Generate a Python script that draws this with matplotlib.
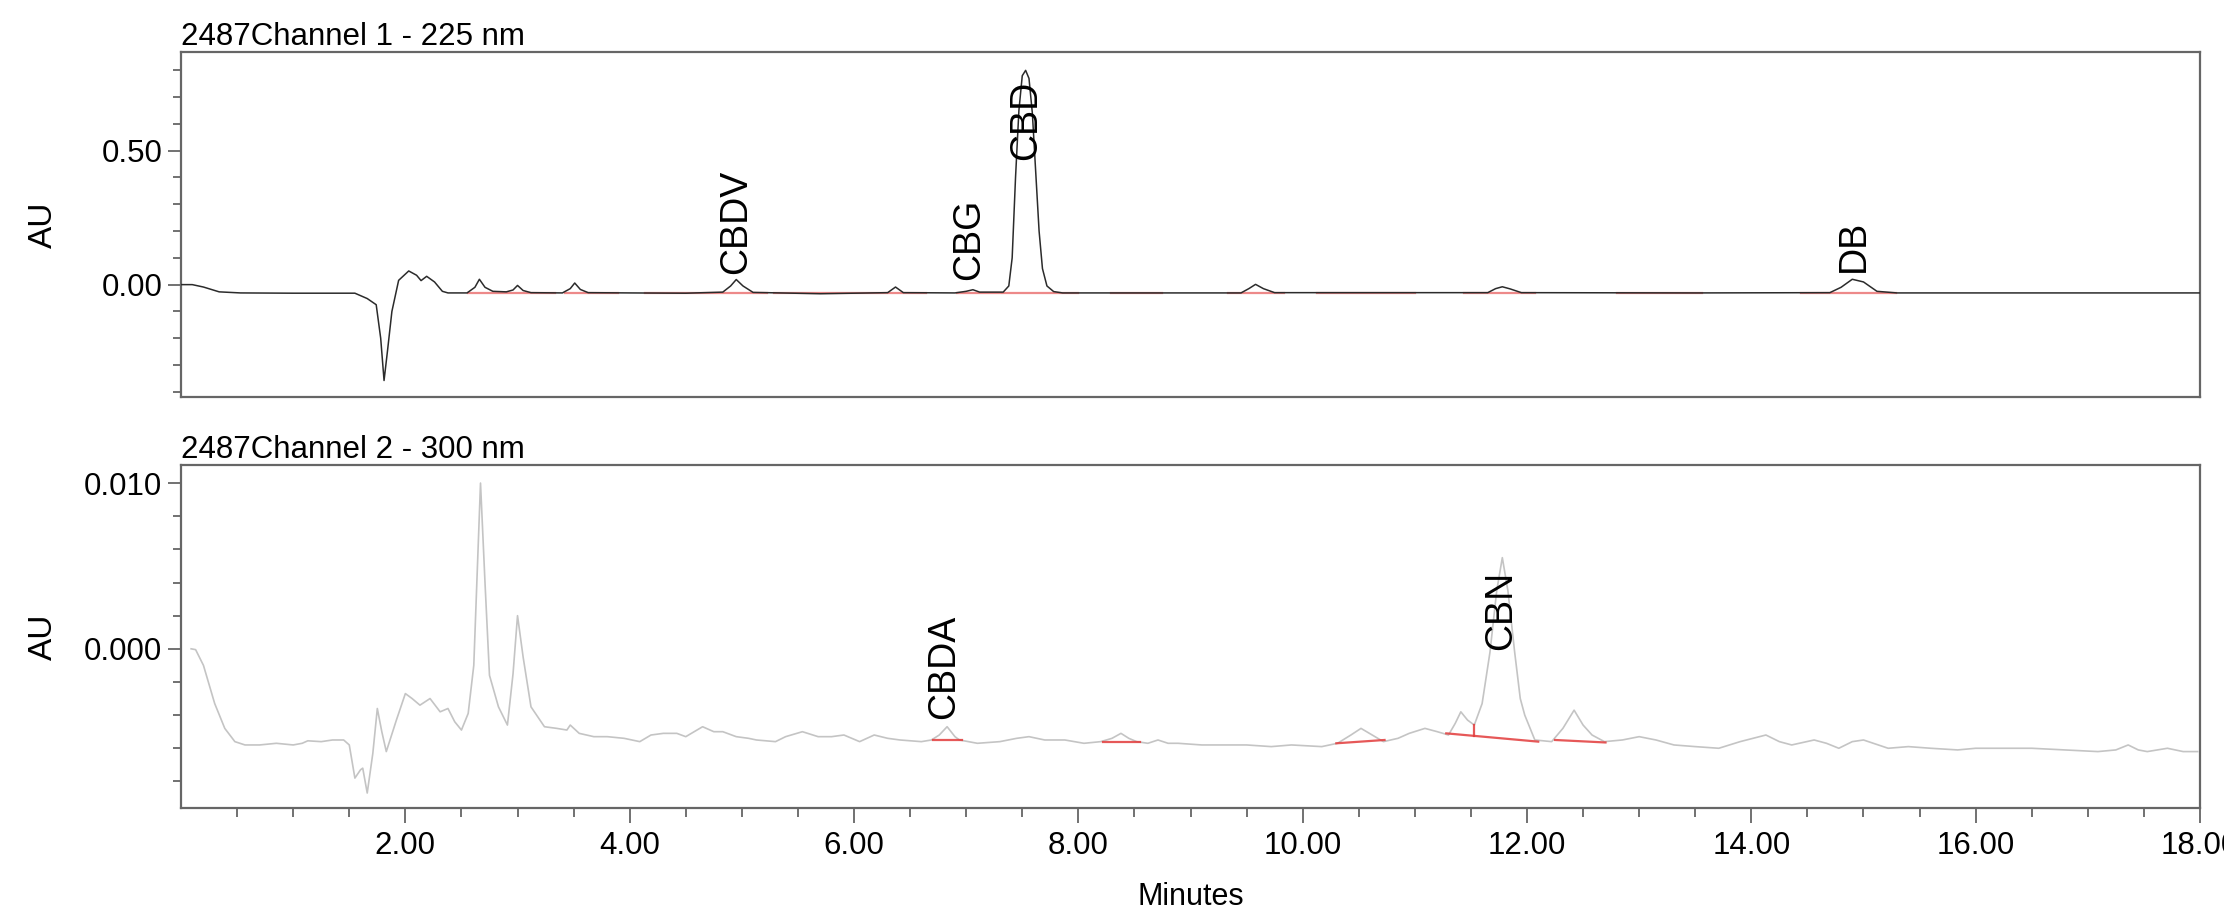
import matplotlib
matplotlib.use("Agg")
import matplotlib.pyplot as plt
from matplotlib.ticker import FixedLocator

plt.rcParams["font.family"] = ["Liberation Sans", "DejaVu Sans"]

# ---- channel 1 (225 nm) trace, minutes / AU ----
ch1_time = [0.0, 0.1, 0.2, 0.34, 0.53, 1.0, 1.55, 1.66, 1.74, 1.78, 1.81, 1.84, 1.88,
            1.94, 2.03, 2.1, 2.14, 2.19, 2.26, 2.33, 2.38, 2.55, 2.62, 2.66, 2.71, 2.78,
            2.9, 2.96, 3.0, 3.05, 3.12, 3.4, 3.47, 3.51, 3.56, 3.63, 4.0, 4.5, 4.83, 4.9,
            4.95, 5.01, 5.1, 5.7, 6.3, 6.37, 6.44, 6.9, 7.0, 7.06, 7.12, 7.33, 7.38,
            7.41, 7.44, 7.47, 7.5, 7.53, 7.56, 7.59, 7.62, 7.65, 7.68, 7.72, 7.78, 7.86,
            9.45, 9.52, 9.58, 9.65, 9.75, 11.65, 11.72, 11.78, 11.85, 11.95, 13.5, 14.7,
            14.8, 14.9, 15.0, 15.12, 15.3, 18.0]
ch1_au = [0.0, 0.0, -0.009, -0.027, -0.031, -0.032, -0.032, -0.052, -0.075, -0.2, -0.358,
          -0.25, -0.1, 0.016, 0.051, 0.035, 0.015, 0.031, 0.01, -0.025, -0.031, -0.031,
          -0.01, 0.02, -0.01, -0.025, -0.027, -0.02, -0.003, -0.022, -0.03, -0.031,
          -0.015, 0.006, -0.018, -0.03, -0.031, -0.032, -0.028, -0.005, 0.019, -0.005,
          -0.029, -0.034, -0.03, -0.009, -0.03, -0.031, -0.025, -0.019, -0.028, -0.028,
          -0.005, 0.1, 0.4, 0.65, 0.78, 0.8, 0.77, 0.64, 0.42, 0.2, 0.06, -0.005, -0.026,
          -0.031, -0.031, -0.015, 0.001, -0.015, -0.03, -0.03, -0.015, -0.008, -0.016,
          -0.03, -0.031, -0.03, -0.01, 0.02, 0.01, -0.025, -0.031, -0.031]

# integration baselines, channel 1 (start, end, level)
ch1_base_start = [2.56, 3.42, 4.14, 5.29, 6.92, 7.33, 8.29, 9.33, 10.13, 11.44, 12.8, 14.44]
ch1_base_end = [3.33, 3.9, 5.22, 6.64, 7.31, 8.0, 8.75, 9.83, 11.0, 12.07, 13.56, 15.29]
ch1_base_level = -0.031

ch1_peaks = ["CBDV", "CBG", "CBD", "DB"]
ch1_peak_time = [4.95, 7.03, 7.53, 14.91]
ch1_label_y = [0.04, 0.016, 0.465, 0.047]

# ---- channel 2 (300 nm) trace, minutes / mAU ----
ch2_time = [0.09, 0.13, 0.2, 0.3, 0.39, 0.48, 0.57, 0.7, 0.85, 1.0, 1.08, 1.13, 1.25, 1.35,
            1.45, 1.5, 1.55, 1.6, 1.62, 1.66, 1.71, 1.75, 1.79, 1.83, 1.92, 2.0, 2.06, 2.13,
            2.22, 2.31, 2.38, 2.44, 2.5, 2.56, 2.61, 2.67, 2.71, 2.75, 2.83, 2.91, 2.96,
            3.0, 3.05, 3.12, 3.24, 3.35, 3.44, 3.47, 3.55, 3.68, 3.8, 3.95, 4.09, 4.19,
            4.3, 4.42, 4.5, 4.65, 4.75, 4.83, 4.95, 5.06, 5.13, 5.3, 5.39, 5.54, 5.68, 5.8,
            5.91, 6.05, 6.18, 6.3, 6.41, 6.6, 6.69, 6.76, 6.83, 6.9, 6.94, 7.1, 7.3, 7.45,
            7.56, 7.7, 7.88, 8.05, 8.2, 8.3, 8.38, 8.45, 8.52, 8.62, 8.71, 8.8, 8.89, 9.1,
            9.26, 9.5, 9.72, 9.9, 10.17, 10.31, 10.43, 10.52, 10.62, 10.72, 10.85, 10.95,
            11.09, 11.2, 11.3, 11.36, 11.41, 11.47, 11.53, 11.6, 11.67, 11.73, 11.78,
            11.83, 11.89, 11.94, 11.98, 12.07, 12.22, 12.32, 12.42, 12.5, 12.58, 12.69,
            12.85, 13.0, 13.15, 13.31, 13.5, 13.71, 13.9, 14.13, 14.25, 14.36, 14.56,
            14.67, 14.78, 14.9, 15.0, 15.22, 15.4, 15.6, 15.84, 16.0, 16.29, 16.5, 16.8,
            17.09, 17.25, 17.36, 17.45, 17.53, 17.71, 17.85, 17.98]
ch2_mau = [0.0, -0.05, -1.0, -3.3, -4.8, -5.6, -5.8, -5.8, -5.7, -5.8, -5.7, -5.55, -5.6,
           -5.5, -5.5, -5.8, -7.8, -7.3, -7.2, -8.7, -6.3, -3.6, -5.0, -6.2, -4.3, -2.7,
           -3.0, -3.4, -3.0, -3.8, -3.6, -4.4, -4.9, -3.9, -1.0, 10.0, 4.0, -1.6, -3.5,
           -4.6, -1.5, 2.0, -0.5, -3.5, -4.7, -4.8, -4.9, -4.6, -5.1, -5.3, -5.3, -5.4,
           -5.6, -5.2, -5.1, -5.1, -5.3, -4.7, -5.0, -5.0, -5.3, -5.4, -5.5, -5.6, -5.3,
           -5.0, -5.3, -5.3, -5.2, -5.6, -5.2, -5.4, -5.5, -5.6, -5.5, -5.2, -4.7, -5.3,
           -5.5, -5.7, -5.6, -5.4, -5.3, -5.5, -5.5, -5.7, -5.6, -5.4, -5.1, -5.4, -5.6,
           -5.7, -5.5, -5.7, -5.7, -5.8, -5.8, -5.8, -5.9, -5.8, -5.9, -5.7, -5.2, -4.8,
           -5.2, -5.6, -5.4, -5.1, -4.8, -5.0, -5.2, -4.5, -3.8, -4.3, -4.6, -3.3, -0.2,
           3.5, 5.5, 3.5, -0.2, -3.0, -4.0, -5.5, -5.6, -4.8, -3.7, -4.6, -5.2, -5.6,
           -5.5, -5.3, -5.5, -5.8, -5.9, -6.0, -5.6, -5.2, -5.6, -5.8, -5.5, -5.7, -6.0,
           -5.6, -5.5, -6.0, -5.9, -6.0, -6.1, -6.0, -6.0, -6.0, -6.1, -6.2, -6.1, -5.8,
           -6.1, -6.2, -6.0, -6.2, -6.2]

# integration baselines, channel 2 (t0, mAU0, t1, mAU1)
ch2_base_t0 = [6.70, 8.22, 10.30, 11.28, 12.25]
ch2_base_v0 = [-5.5, -5.6, -5.7, -5.1, -5.5]
ch2_base_t1 = [6.96, 8.55, 10.73, 12.10, 12.70]
ch2_base_v1 = [-5.5, -5.6, -5.5, -5.6, -5.65]
ch2_drop_time = 11.53
ch2_drop_mau = [-5.25, -4.6]

ch2_peaks = ["CBDA", "CBN"]
ch2_peak_time = [6.80, 11.77]
ch2_label_mau = [-4.26, -0.05]

x_major = [2, 4, 6, 8, 10, 12, 14, 16, 18]
x_minor = [v * 0.5 for v in range(1, 36) if v % 4 != 0]

spine_col = "#666666"
red = "#e23b3b"

fig = plt.figure(figsize=(22.24, 9.15), dpi=100)
ax1 = fig.add_axes([0.0814, 0.566, 0.9078, 0.377])
ax2 = fig.add_axes([0.0814, 0.117, 0.9078, 0.375])

ch2_au = [v / 1000 for v in ch2_mau]

ax1.plot(ch1_time, ch1_au, color="#2b2b2b", lw=1.1, zorder=3)
for a, b in zip(ch1_base_start, ch1_base_end):
    ax1.plot([a, b], [ch1_base_level, ch1_base_level], color=red, lw=1.6, alpha=0.6, zorder=2)
for name, t, y in zip(ch1_peaks, ch1_peak_time, ch1_label_y):
    ax1.text(t, y, name, rotation=90, ha="center", va="bottom", fontsize=27, zorder=4)

ax2.plot(ch2_time, ch2_au, color="#c4c4c4", lw=1.2, zorder=3)
for t0, v0, t1, v1 in zip(ch2_base_t0, ch2_base_v0, ch2_base_t1, ch2_base_v1):
    ax2.plot([t0, t1], [v0 / 1000, v1 / 1000], color=red, lw=1.6, alpha=0.85, zorder=4)
ax2.plot([ch2_drop_time, ch2_drop_time], [v / 1000 for v in ch2_drop_mau],
         color=red, lw=1.6, alpha=0.85, zorder=4)
for name, t, y in zip(ch2_peaks, ch2_peak_time, ch2_label_mau):
    ax2.text(t, y / 1000, name, rotation=90, ha="center", va="bottom", fontsize=27, zorder=5)

ax1.set_xlim(0, 18)
ax2.set_xlim(0, 18)
ax1.set_ylim(-0.42, 0.868)
ax2.set_ylim(-0.0096, 0.0111)

ax1.yaxis.set_major_locator(FixedLocator([0.0, 0.5]))
ax1.yaxis.set_minor_locator(FixedLocator([-0.4, -0.3, -0.2, -0.1, 0.1, 0.2, 0.3, 0.4, 0.6, 0.7, 0.8]))
ax1.set_yticklabels(["0.00", "0.50"])
ax2.yaxis.set_major_locator(FixedLocator([0.0, 0.01]))
ax2.yaxis.set_minor_locator(FixedLocator([-0.008, -0.006, -0.004, -0.002, 0.002, 0.004, 0.006, 0.008]))
ax2.set_yticklabels(["0.000", "0.010"])

ax2.xaxis.set_major_locator(FixedLocator(x_major))
ax2.xaxis.set_minor_locator(FixedLocator(x_minor))
ax2.set_xticklabels([f"{v:.2f}" for v in x_major])
ax1.tick_params(axis="x", which="both", bottom=False, labelbottom=False)

for ax in (ax1, ax2):
    for s in ax.spines.values():
        s.set_color(spine_col)
        s.set_linewidth(1.6)
    ax.tick_params(axis="y", which="major", direction="out", length=9.5, width=1.3,
                   color=spine_col, labelsize=22.5, pad=4)
    ax.tick_params(axis="y", which="minor", direction="out", length=5.8, width=1.3,
                   color=spine_col)
    ax.set_ylabel("AU", fontsize=24)
    ax.yaxis.set_label_coords(-0.0605, 0.5)

ax2.tick_params(axis="x", which="major", direction="out", length=10.8, width=1.3,
                color=spine_col, labelsize=22.5, pad=6)
ax2.tick_params(axis="x", which="minor", direction="out", length=6.5, width=1.3,
                color=spine_col)
ax2.set_xlabel("Minutes", fontsize=22)
ax2.xaxis.set_label_coords(0.5, -0.215)

ax1.set_title("2487Channel 1 - 225 nm", loc="left", fontsize=22.5, pad=4)
ax2.set_title("2487Channel 2 - 300 nm", loc="left", fontsize=22.5, pad=4)

fig.savefig("out.png", dpi=100)
